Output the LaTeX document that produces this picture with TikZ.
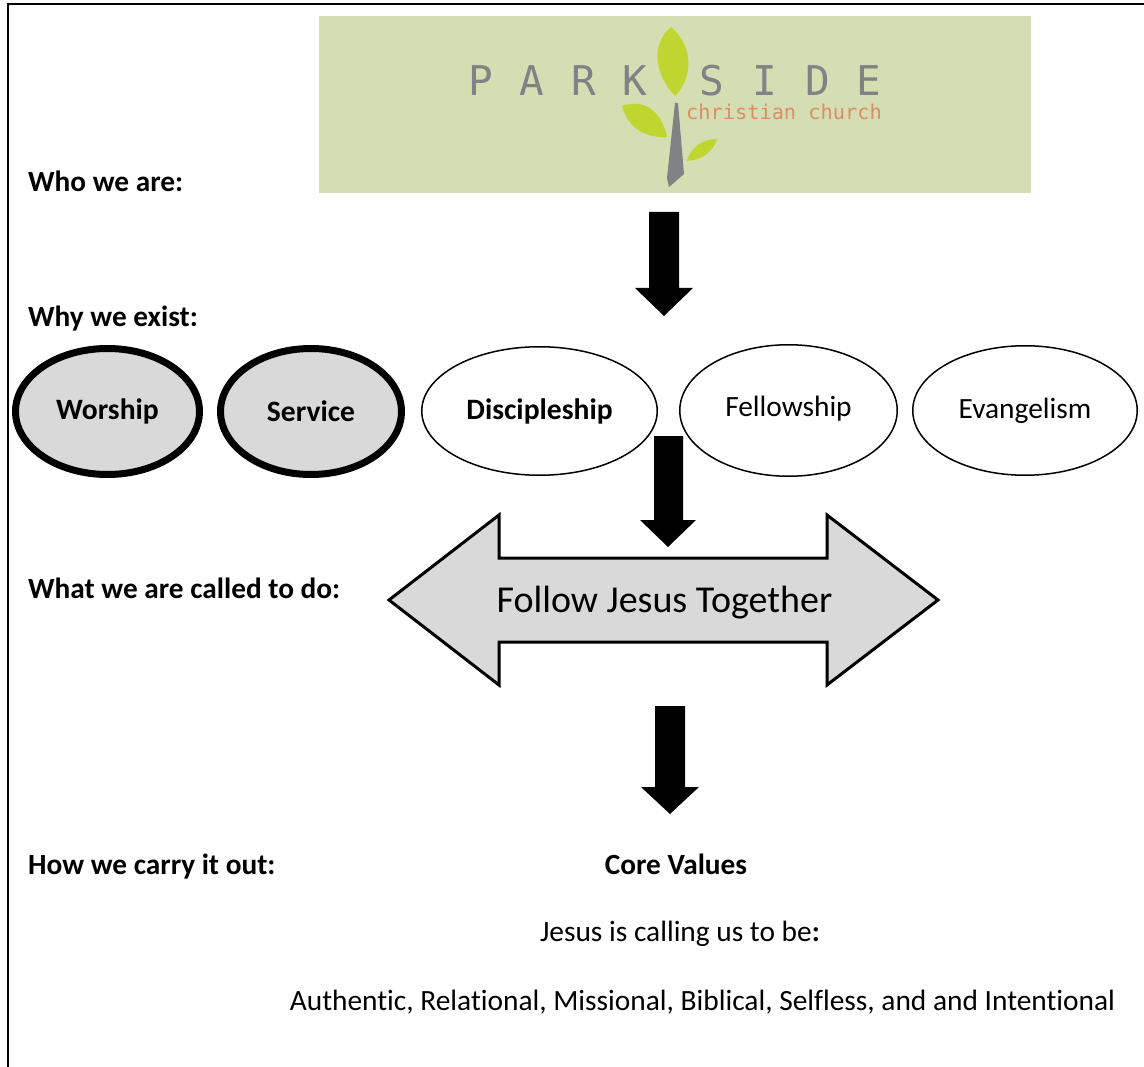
\documentclass[tikz,border=0pt]{standalone}
\usepackage{fontspec}
\setmainfont{Carlito}[Ligatures={NoCommon}]
\newfontfamily\logofont{DejaVu Sans Mono}
\usetikzlibrary{shapes.geometric}
\definecolor{logobg}{HTML}{D5DEB2}
\definecolor{logogray}{HTML}{808285}
\definecolor{leafgreen}{HTML}{BED630}
\definecolor{logoorange}{HTML}{D98E66}
\definecolor{shapegray}{HTML}{D9D9D9}
\tikzset{
  rowlabel/.style={anchor=base west, inner sep=0, font=\bfseries\fontsize{29.3}{34}\selectfont},
  bodytext/.style={anchor=base, inner sep=0, font=\fontsize{29.4}{34}\selectfont},
  thickoval/.style={ellipse, draw, line width=7pt, fill=shapegray, inner sep=0, font=\bfseries\fontsize{29.6}{34}\selectfont},
  thinoval/.style={ellipse, draw, line width=1.5pt, fill=white, inner sep=0, font=\fontsize{29.4}{34}\selectfont},
  blockarrow/.style={fill=black, draw=none},
  logoletter/.style={anchor=base, inner sep=0, text=logogray, font=\logofont\fontsize{41}{41}\selectfont},
  leaf/.style={fill=leafgreen, draw=none}
}
\begin{document}
\begin{tikzpicture}[x=1pt,y=-1pt]
\useasboundingbox (0,0) rectangle (1144,1067);
% frame
\draw[line width=2pt] (7.5,1067) -- (7.5,4.5) -- (1144,4.5);
% logo
\node[fill=logobg, minimum width=712pt, minimum height=177pt, inner sep=0, anchor=north west] (logo) at (319,16) {};
\foreach \ch/\xx [count=\i] in {P/481,A/532,R/584,K/635,S/712,I/765,D/818,E/869}
  \node[logoletter] (lt\i) at (\xx,96) {\ch};
\node[anchor=base west, inner sep=0, text=logoorange, font=\logofont\fontsize{20.3}{20}\selectfont] (cc) at (686,120) {christian church};
% top leaf
\fill[leaf] (671,27) .. controls (650,45) and (655,75) .. (675,96) .. controls (695,75) and (692,45) .. (671,27) -- cycle;
% left leaf
\fill[leaf] (622,106) .. controls (645,98) and (662,112) .. (667,137) .. controls (645,138) and (628,128) .. (622,106) -- cycle;
% right leaf
\fill[leaf] (687,161) .. controls (690,148) and (702,139) .. (717,139) .. controls (713,152) and (702,160) .. (687,161) -- cycle;
% trunk
\fill[logogray] (675,103) -- (678,103) -- (684,174) -- (669,187) -- (667,178) -- cycle;
% labels
\node[rowlabel] (who) at (28,192) {Who we are:};
\node[rowlabel] (why) at (28,327) {Why we exist:};
\node[rowlabel] (what) at (28,598) {What we are called to do:};
\node[rowlabel] (how) at (28,874) {How we carry it out:};
% arrow 1
\fill[blockarrow] (649,212) -- (679,212) -- (679,288) -- (693,288) -- (664,316) -- (635,288) -- (649,288) -- cycle;
% ovals
\node[thickoval, minimum width=184pt, minimum height=126pt] (worship) at (107.5,411.5) {Worship};
\node[thickoval, minimum width=181pt, minimum height=126pt] (service) at (311,411.5) {Service};
\node[thinoval, minimum width=235.5pt, minimum height=128.5pt, font=\bfseries\fontsize{29.6}{34}\selectfont] (disc) at (539.5,411) {Discipleship};
\node[thinoval, minimum width=217.5pt, minimum height=131.5pt] (fell) at (788.5,410.5) {\raisebox{8pt}{Fellowship}};
\node[thinoval, minimum width=224.5pt, minimum height=129.5pt] (evan) at (1025,410.5) {\raisebox{-1pt}{Evangelism}};
% arrow 2
\fill[blockarrow] (654,436) -- (683,436) -- (683,520) -- (696,520) -- (668,547) -- (640,520) -- (654,520) -- cycle;
% double arrow
\draw[line width=3pt, fill=shapegray, line join=miter] (389,600) -- (499,515) -- (499,558) -- (827,558) -- (827,515) -- (938,600) -- (827,685) -- (827,642) -- (499,642) -- (499,685) -- cycle;
\node[bodytext, font=\fontsize{38}{40}\selectfont] (follow) at (664.5,612) {Follow Jesus Together};
% arrow 3
\fill[blockarrow] (655,706) -- (685,706) -- (685,787) -- (699,787) -- (670,814) -- (641,787) -- (655,787) -- cycle;
% core values
\node[bodytext, font=\bfseries\fontsize{29.3}{34}\selectfont] (core) at (676,874) {Core Values};
\node[bodytext] (calling) at (680,941) {Jesus is calling us to be\textbf{:}};
\node[bodytext] (values) at (702.5,1010) {Authentic, Relational, Missional, Biblical, Selfless, and and Intentional};
\end{tikzpicture}
\end{document}
